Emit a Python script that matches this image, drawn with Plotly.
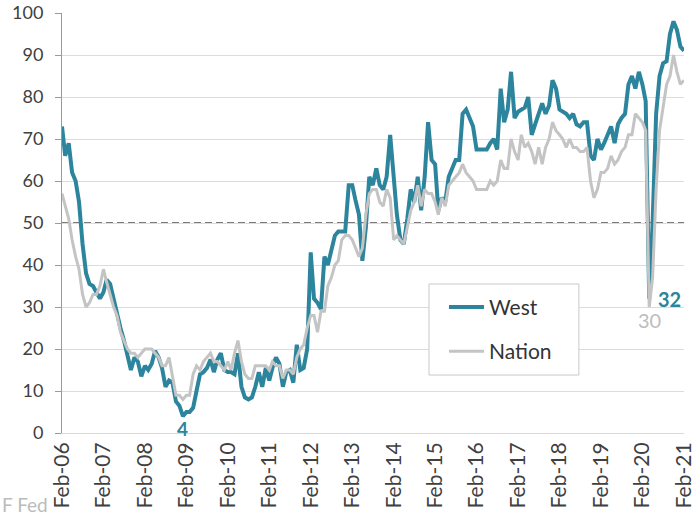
import pandas as pd
import plotly.graph_objects as go

# Monthly, Feb-2006 .. Feb-2021
months = pd.date_range("2006-02-01", "2021-02-01", freq="MS")

west = [
    73, 66, 69, 62, 60, 55, 45, 38, 35.5, 35,
    33.5, 32, 33.5, 36.5, 35.5, 32, 28, 25, 22, 18,
    15, 18, 17, 13.5, 16, 15, 16.5, 19.5, 18, 15.5,
    11, 12.5, 12, 7.5, 6.5, 4, 5, 5, 6, 10,
    14, 14.5, 15.5, 17.5, 14.5, 17.5, 19, 15, 14.5, 14.5,
    14, 19, 11, 8.5, 8, 8.5, 11, 14.5, 11, 15.5,
    12.5, 15.5, 18, 16.5, 11, 14.5, 15, 12, 21, 15,
    15.5, 20, 43, 32, 31, 29.5, 42, 40, 44, 47,
    48, 48, 48, 59, 59, 55.5, 52, 41, 49, 61,
    59, 63, 59, 58, 61, 71, 61, 52, 46, 45,
    51, 58, 55, 61, 53, 61, 74, 65, 64, 53,
    56, 55, 61, 63, 65, 65, 76, 77, 75, 73,
    67.5, 67.5, 67.5, 67.5, 69, 70, 67.5, 82, 74, 77,
    86, 75, 76.5, 77, 77.5, 80, 71, 73.5, 76, 78.5,
    76, 78, 84, 82, 77, 76.5, 76, 75, 76, 73.5,
    73, 74, 74, 66, 65, 70, 67.5, 69, 71, 73,
    69, 73.5, 75, 76, 83, 85, 82, 86, 83, 79,
    32, 50, 76, 85, 88, 88.5, 95, 98, 96, 92, 91,
]

nation = [
    57, 54, 51, 46, 42, 39, 33, 30, 31, 33, 33,
    35, 39, 36, 33, 30, 28, 24, 22, 20, 19, 19, 18,
    19, 20, 20, 20, 19, 18, 16, 16, 18, 14, 9, 9,
    8, 9, 9, 14, 16, 15, 17, 18, 19, 17, 17, 16,
    15, 17, 15, 19, 22, 17, 14, 13, 13, 16, 16, 16,
    16, 15, 17, 16, 16, 13, 15, 15, 14, 18, 20, 21,
    25, 28, 28, 24, 29, 29, 35, 37, 40, 41, 46, 47,
    47, 46, 44, 42, 44, 52, 57, 58, 58, 55, 54, 58,
    56, 46, 47, 46, 45, 49, 53, 55, 59, 54, 58, 57,
    57, 55, 52, 56, 54, 59, 60, 61, 62, 64, 62, 61,
    60, 58, 58, 58, 58, 60, 59, 60, 65, 63, 63, 70,
    67, 65, 71, 68, 69, 67, 64, 68, 64, 68, 70, 74,
    72, 71, 70, 68, 70, 68, 68, 67, 67, 68, 60, 56,
    58, 62, 62, 63, 66, 64, 65, 67, 68, 71, 71, 76,
    75, 74, 72, 30, 37, 58, 72, 78, 83, 85, 90, 86,
    83, 84,
]

tick_labels = ["Feb-06", "Feb-07", "Feb-08", "Feb-09", "Feb-10", "Feb-11",
               "Feb-12", "Feb-13", "Feb-14", "Feb-15", "Feb-16", "Feb-17",
               "Feb-18", "Feb-19", "Feb-20", "Feb-21"]
tick_dates = [pd.Timestamp(f"20{t[-2:]}-02-01") for t in tick_labels]

TEAL = "#2C859D"
GREY = "#C4C4C4"
FONT = "Lato"

fig = go.Figure()
fig.add_trace(go.Scatter(x=months, y=west, name="West", mode="lines",
                         line=dict(color=TEAL, width=4), legendgroup="a"))
fig.add_trace(go.Scatter(x=months, y=nation, name="Nation", mode="lines",
                         line=dict(color=GREY, width=3), legendgroup="b"))

# 50 reference line
fig.add_shape(type="line", xref="paper", x0=0, x1=1, yref="y", y0=50, y1=50,
              line=dict(color="#7A7A7A", width=2, dash="7px,4px"), layer="below")
# legend frame (plot width 622 px)
fig.add_shape(type="rect", xref="paper", yref="paper",
              x0=0.590, x1=0.831, y0=0.138, y1=0.3548,
              line=dict(color="#C8C8C8", width=1), fillcolor="white", layer="above")

fig.update_layout(
    width=694, height=520,
    margin=dict(l=62, r=10, t=13, b=87, autoexpand=False),
    paper_bgcolor="white", plot_bgcolor="white",
    font=dict(family=FONT, size=18, color="#404040"),
    showlegend=True,
    legend=dict(x=0.590, y=0.348, xanchor="left", yanchor="top",
                borderwidth=0, bgcolor="rgba(0,0,0,0)",
                font=dict(size=21, color="#333333"),
                indentation=15, itemwidth=35,
                traceorder="grouped", tracegroupgap=14),
    xaxis=dict(type="date",
               range=[months[0], months[-1] + pd.Timedelta(hours=12)],
               tickvals=tick_dates, ticktext=tick_labels, tickangle=-90,
               tickfont=dict(size=21, color="#404040"),
               ticklabeloverflow="allow",
               showgrid=False, showline=True, linecolor="#D9D9D9",
               ticks="", zeroline=False, automargin=False),
    yaxis=dict(range=[0, 100], dtick=10, tickfont=dict(size=18, color="#404040"),
               showgrid=True, gridcolor="#DCDCDC", gridwidth=1,
               showline=True, linecolor="#9A9A9A", linewidth=1,
               ticks="outside", ticklen=6, tickcolor="#9A9A9A",
               ticklabelstandoff=8, zeroline=False, automargin=False),
    annotations=[
        dict(x=months[35], y=1, xref="x", yref="y", text="<b>4</b>", showarrow=False,
             font=dict(size=19, color=TEAL, family=FONT), xanchor="center", yanchor="middle"),
        dict(x=months[170], y=27, xref="x", yref="y", text="30", showarrow=False,
             font=dict(size=20, color="#BDBDBD", family=FONT), xanchor="center", yanchor="middle"),
        dict(x=months[176], y=32, xref="x", yref="y", text="<b>32</b>", showarrow=False,
             font=dict(size=20, color=TEAL, family=FONT), xanchor="center", yanchor="middle"),
        dict(x=-0.0997, y=-0.171, xref="paper", yref="paper", text="F Fed",
             showarrow=False, font=dict(size=19, color="#BBBBBB", family=FONT),
             xanchor="left", yanchor="middle"),
    ],
)

fig.write_html("out.html", config={"displayModeBar": False},
               post_script="document.body.style.margin='0px';document.body.style.overflow='hidden';")
